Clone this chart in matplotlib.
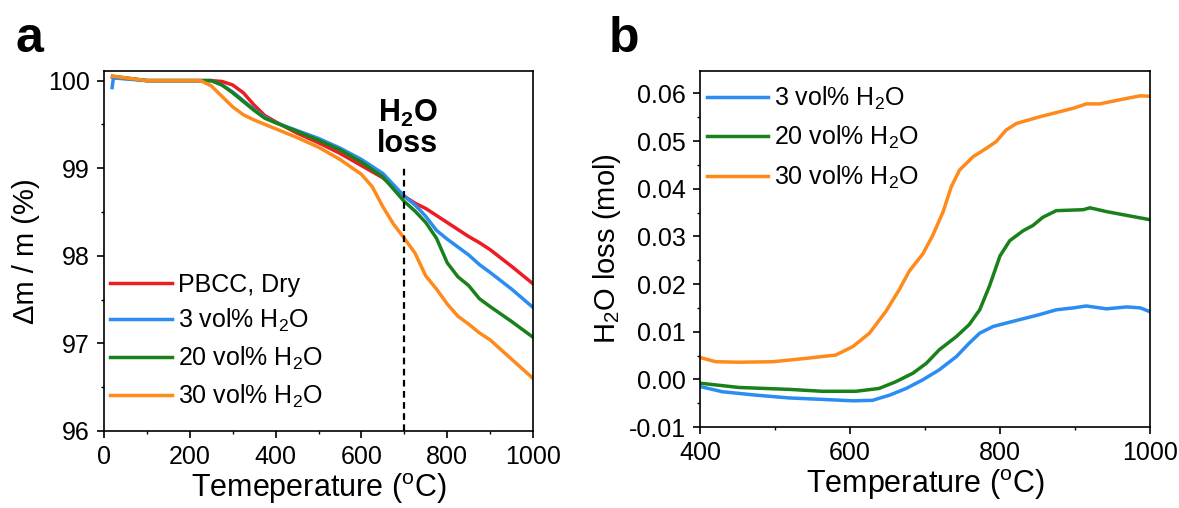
import numpy as np
import matplotlib
matplotlib.use("Agg")
import matplotlib.pyplot as plt
from matplotlib.ticker import MultipleLocator, FormatStrFormatter

plt.rcParams['font.family'] = ['Liberation Sans', 'DejaVu Sans']
plt.rcParams['mathtext.fontset'] = 'custom'
plt.rcParams['mathtext.rm'] = 'Liberation Sans'
plt.rcParams['mathtext.it'] = 'Liberation Sans:italic'
plt.rcParams['mathtext.bf'] = 'Liberation Sans:bold'
plt.rcParams['axes.unicode_minus'] = False

# ---- panel a : TGA mass change ----
t_a = [20, 100, 200, 250, 275, 300, 325, 350, 375, 400, 450, 500, 550, 600, 650,
       700, 725, 750, 775, 800, 825, 850, 875, 900, 950, 1000]
dry = [100.04, 100.0, 100.0, 100.0, 99.99, 99.95, 99.86, 99.72, 99.60, 99.53, 99.40,
       99.29, 99.17, 99.03, 98.89, 98.68, 98.60, 98.54, 98.46, 98.38, 98.30, 98.22,
       98.15, 98.07, 97.88, 97.68]
t_a3 = [19, 22] + t_a[1:]
h2o_3 = [99.92, 100.03, 100.0, 100.0, 100.0, 99.95, 99.87, 99.77, 99.67, 99.58, 99.52,
         99.43, 99.34, 99.23, 99.10, 98.94, 98.68, 98.58, 98.45, 98.29, 98.19, 98.10,
         98.01, 97.90, 97.81, 97.62, 97.41]
h2o_20 = [100.05, 100.0, 100.0, 100.0, 99.95, 99.86, 99.76, 99.66, 99.57, 99.52, 99.42,
          99.32, 99.21, 99.07, 98.90, 98.62, 98.51, 98.38, 98.20, 97.92, 97.76, 97.66,
          97.51, 97.42, 97.25, 97.07]
t_a30 = [20, 100, 200, 225, 250, 275, 300, 325, 350, 375, 400, 450, 500, 550, 600, 625,
         650, 675, 700, 725, 750, 775, 800, 825, 850, 875, 900, 950, 1000]
h2o_30 = [100.05, 100.0, 100.0, 100.0, 99.94, 99.82, 99.70, 99.61, 99.55, 99.50, 99.45,
          99.35, 99.24, 99.10, 98.93, 98.79, 98.56, 98.36, 98.20, 98.03, 97.77, 97.62,
          97.45, 97.31, 97.22, 97.12, 97.04, 96.82, 96.60]

# ---- panel b : H2O loss ----
t_b3 = [400, 430, 474, 519, 563, 604, 630, 653, 675, 697, 719, 742, 759, 773, 791, 808,
        853, 875, 898, 915, 942, 969, 987, 1000]
loss_3 = [-0.0015, -0.0026, -0.0033, -0.0039, -0.0042, -0.0045, -0.0044, -0.0033, -0.0019,
          -0.0001, 0.0020, 0.0048, 0.0076, 0.0097, 0.0111, 0.0118, 0.0136, 0.0146, 0.0150,
          0.0154, 0.0148, 0.0152, 0.0150, 0.0142]
t_b20 = [400, 452, 519, 563, 608, 639, 661, 684, 702, 719, 742, 759, 773, 786, 800, 813,
         831, 844, 857, 875, 911, 920, 942, 1000]
loss_20 = [-0.0008, -0.0017, -0.0021, -0.0025, -0.0025, -0.0019, -0.0005, 0.0013, 0.0034,
           0.0062, 0.0090, 0.0115, 0.0146, 0.0196, 0.0259, 0.0291, 0.0312, 0.0323, 0.0340,
           0.0354, 0.0356, 0.0360, 0.0352, 0.0335]
t_b30 = [400, 421, 452, 497, 541, 581, 604, 626, 648, 666, 679, 697, 710, 724, 735, 746,
         764, 782, 795, 808, 822, 853, 898, 915, 933, 964, 987, 1000]
loss_30 = [0.0046, 0.0037, 0.0036, 0.0037, 0.0044, 0.0051, 0.0069, 0.0097, 0.0143, 0.0189,
           0.0227, 0.0263, 0.0301, 0.0351, 0.0404, 0.0439, 0.0467, 0.0485, 0.0499, 0.0523,
           0.0537, 0.0551, 0.0569, 0.0578, 0.0578, 0.0588, 0.0595, 0.0594]

c_red = '#ec1c24'
c_blue = '#2b8cf2'
c_green = '#1a801a'
c_orange = '#ff8a1c'
lw = 2.5

fig = plt.figure(figsize=(11.79, 5.08), dpi=100)
ax1 = fig.add_axes([0.0882, 0.1516, 0.3639, 0.7087])
ax2 = fig.add_axes([0.5937, 0.1594, 0.3817, 0.7008])

ax1.plot(t_a, dry, color=c_red, lw=lw, label='PBCC, Dry')
ax1.plot(t_a3, h2o_3, color=c_blue, lw=lw, label='3 vol% H$_2$O')
ax1.plot(t_a, h2o_20, color=c_green, lw=lw, label='20 vol% H$_2$O')
ax1.plot(t_a30, h2o_30, color=c_orange, lw=lw, label='30 vol% H$_2$O')
ax1.plot([700, 700], [96, 99.03], 'k--', lw=1.6, dashes=(3, 2))
ax1.text(707, 99.11, 'H$_\\mathbf{2}$O\nloss', ha='center', va='bottom',
         fontsize=22, fontweight='bold', linespacing=1.0)
ax1.set_xlim(0, 1000)
ax1.set_ylim(96, 100.11)
ax1.xaxis.set_major_locator(MultipleLocator(200))
ax1.xaxis.set_minor_locator(MultipleLocator(100))
ax1.yaxis.set_major_locator(MultipleLocator(1))
ax1.yaxis.set_minor_locator(MultipleLocator(0.5))
ax1.set_xlabel('Temeperature ($^\\mathrm{o}$C)', fontsize=22, labelpad=2)
ax1.set_ylabel('\u0394m / m (%)', fontsize=21, labelpad=6)
ax1.legend(loc='upper left', bbox_to_anchor=(0.015, 0.44), frameon=False, fontsize=18,
           handlelength=2.45, handletextpad=0.25, labelspacing=0.42, borderpad=0,
           borderaxespad=0)

ax2.plot(t_b3, loss_3, color=c_blue, lw=lw, label='3 vol% H$_2$O')
ax2.plot(t_b20, loss_20, color=c_green, lw=lw, label='20 vol% H$_2$O')
ax2.plot(t_b30, loss_30, color=c_orange, lw=lw, label='30 vol% H$_2$O')
ax2.set_xlim(400, 1000)
ax2.set_ylim(-0.01, 0.0647)
ax2.xaxis.set_major_locator(MultipleLocator(200))
ax2.xaxis.set_minor_locator(MultipleLocator(100))
ax2.yaxis.set_major_locator(MultipleLocator(0.01))
ax2.yaxis.set_minor_locator(MultipleLocator(0.005))
ax2.yaxis.set_major_formatter(FormatStrFormatter('%.2f'))
ax2.set_xlabel('Temperature ($^\\mathrm{o}$C)', fontsize=22, labelpad=2)
ax2.set_ylabel('H$_2$O loss (mol)', fontsize=21, labelpad=4)
ax2.legend(loc='upper left', bbox_to_anchor=(0.015, 0.962), frameon=False, fontsize=18,
           handlelength=2.45, handletextpad=0.25, labelspacing=0.5, borderpad=0,
           borderaxespad=0)

for ax in (ax1, ax2):
    for s in ax.spines.values():
        s.set_linewidth(1.2)
    ax.tick_params(which='major', direction='out', length=5, width=1.2, labelsize=18, pad=5)
    ax.tick_params(which='minor', direction='out', length=2.5, width=1.0)

fig.text(0.013, 0.897, 'a', fontsize=36, fontweight='bold', ha='left', va='baseline')
fig.text(0.516, 0.897, 'b', fontsize=36, fontweight='bold', ha='left', va='baseline')

fig.savefig('out.png', dpi=100)
